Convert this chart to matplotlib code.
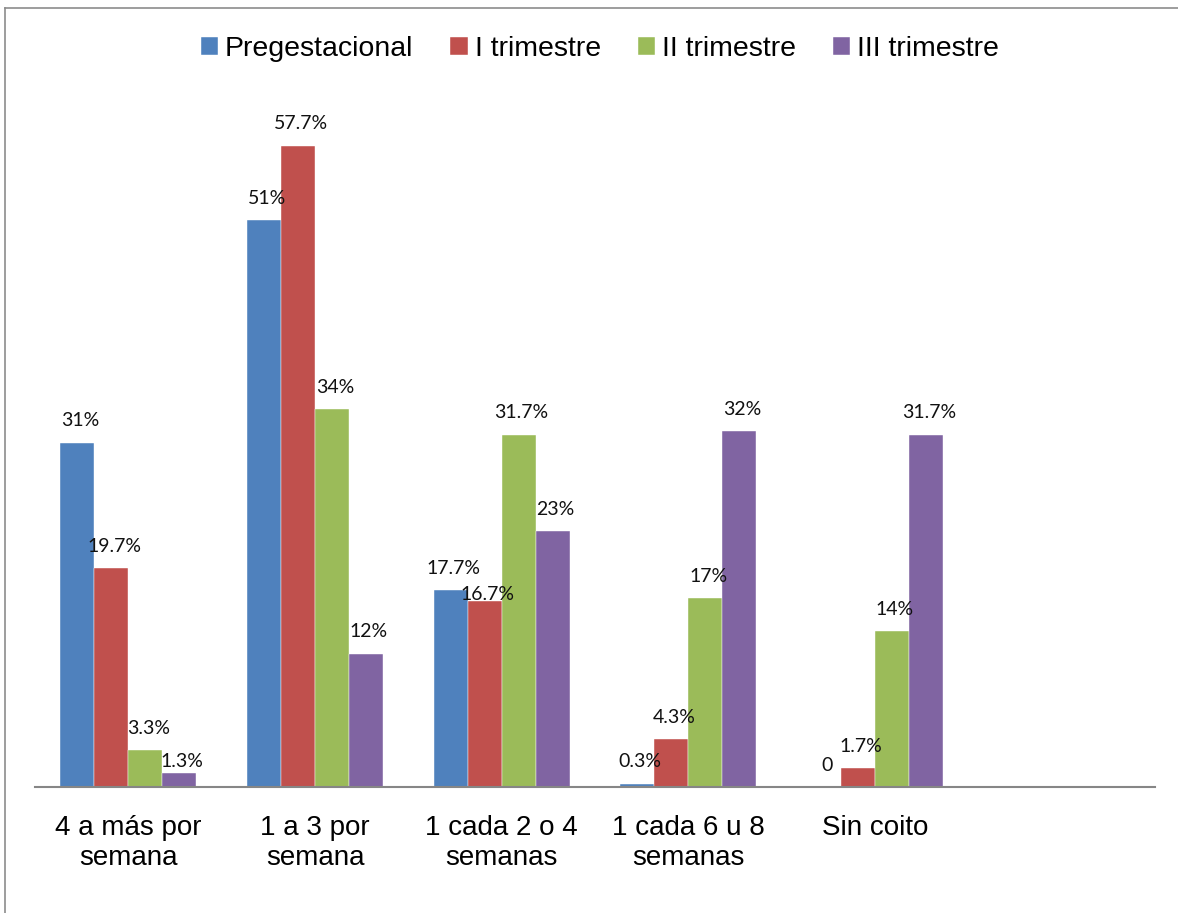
import matplotlib
matplotlib.use("Agg")
import matplotlib.pyplot as plt
from matplotlib.lines import Line2D
import numpy as np

categories = ["4 a más por\nsemana", "1 a 3 por\nsemana", "1 cada 2 o 4\nsemanas",
              "1 cada 6 u 8\nsemanas", "Sin coito", ""]
series_names = ["Pregestacional", "I trimestre", "II trimestre", "III trimestre"]
pregestacional = [31, 51, 17.7, 0.3, 0]
trimestre_1 = [19.7, 57.7, 16.7, 4.3, 1.7]
trimestre_2 = [3.3, 34, 31.7, 17, 14]
trimestre_3 = [1.3, 12, 23, 32, 31.7]

colors = ["#4F81BD", "#C0504D", "#9BBB59", "#8064A2"]


def fmt(v):
	if v == 0:
		return "0"
	return "%g%%" % v


fig = plt.figure(figsize=(11.78, 9.13), dpi=100)
ax = fig.add_axes([35 / 1178, 126 / 913, 1120 / 1178, 666.7 / 913])

series = [pregestacional, trimestre_1, trimestre_2, trimestre_3]
x = np.arange(len(pregestacional))
w = 0.182
# label distance above bar top in pixels, a few were nudged in the original
nudge = {(3, 0): 11, (1, 2): 7}
for i, vals in enumerate(series):
	pos = x + (i - 1.5) * w
	ax.bar(pos, vals, w, color=colors[i], label=series_names[i],
		edgecolor="white", linewidth=0.3)
	for j, v in enumerate(vals):
		off = nudge.get((i, j), 22)
		ax.annotate(fmt(v), (pos[j], v), xytext=(3, off), textcoords="offset pixels",
			ha="center", va="center", fontsize=14, family="Lato", color="#111111")

ax.set_xlim(-0.5, 5.5)
ax.set_ylim(0, 60)
ax.set_xticks(np.arange(len(categories)))
ax.set_xticklabels(categories, fontsize=20, family="Liberation Sans", linespacing=1.2)
ax.tick_params(axis="x", length=0, pad=20)
ax.set_yticks([])
for s in ["top", "right", "left"]:
	ax.spines[s].set_visible(False)
ax.spines["bottom"].set_color("#868686")
ax.spines["bottom"].set_linewidth(1.5)

fig.legend(loc="center", bbox_to_anchor=(600 / 1178, 1 - 49 / 913), ncol=4, frameon=False,
	prop={"family": "Liberation Sans", "size": 20.5}, handlelength=0.6, handleheight=0.6,
	handletextpad=0.25, columnspacing=1.3)

# outer chart border (left and top only visible)
bx = 5 / 1178
by = 1 - 8 / 913
fig.add_artist(Line2D([bx, bx], [0, by], color="#8c8c8c", lw=1.2, transform=fig.transFigure))
fig.add_artist(Line2D([bx, 1], [by, by], color="#8c8c8c", lw=1.2, transform=fig.transFigure))

fig.savefig("out.png", dpi=100)
